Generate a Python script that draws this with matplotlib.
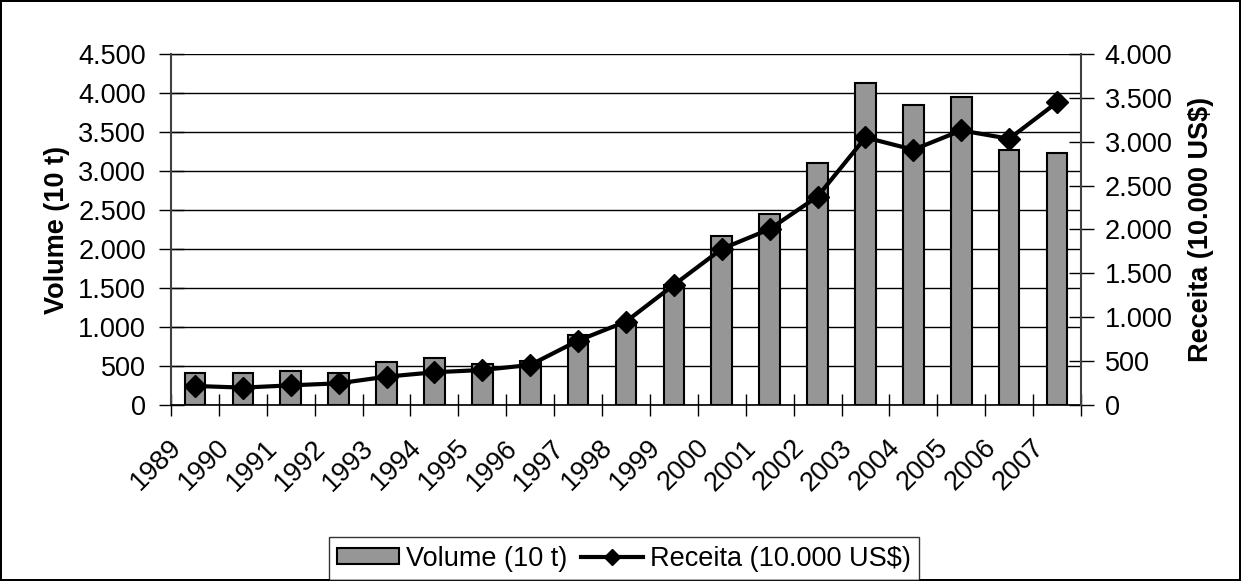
import matplotlib
matplotlib.use("Agg")
import matplotlib.pyplot as plt
from matplotlib.ticker import FuncFormatter, MultipleLocator, FixedLocator
import matplotlib.transforms as mtransforms
import numpy as np

years = [str(y) for y in range(1989, 2008)]
volume = [415, 415, 441, 415, 552, 603, 526, 570, 900, 1020, 1540, 2169, 2447, 3101, 4124, 3841, 3952, 3268, 3234]
receita = [217, 198, 224, 247, 323, 373, 399, 456, 734, 951, 1369, 1779, 2004, 2376, 3049, 2909, 3129, 3034, 3449]

plt.rcParams['font.family'] = ['Liberation Sans', 'DejaVu Sans']
FS = 19.5

W, H = 1241, 581
fig = plt.figure(figsize=(W / 100, H / 100), dpi=100)
fig.patch.set_edgecolor('black')
fig.patch.set_linewidth(1.5)

ax = fig.add_axes([171 / W, 1 - 405 / H, (1081 - 171) / W, (405 - 54) / H])
ax2 = ax.twinx()

x = np.arange(len(years))
bars = ax.bar(x, volume, width=0.43, color='#969696', edgecolor='black', linewidth=1.5, zorder=3,
              label='Volume (10 t)')
ax.set_xlim(-0.5, len(years) - 0.5)
ax.set_ylim(0, 4500)
ax.yaxis.set_major_locator(MultipleLocator(500))
ax.grid(axis='y', color='black', linewidth=1, zorder=0)
ax.set_axisbelow(True)

line, = ax2.plot(x, receita, color='black', linewidth=3, marker='D', markersize=11,
                 label='Receita (10.000 US$)', zorder=5)
ax2.set_ylim(0, 4000)
ax2.yaxis.set_major_locator(MultipleLocator(500))

fmt = FuncFormatter(lambda v, p: format(int(round(v)), ',').replace(',', '.'))
ax.yaxis.set_major_formatter(fmt)
ax2.yaxis.set_major_formatter(fmt)

ax.spines['top'].set_visible(False)
ax2.spines['top'].set_visible(False)
ax.spines['right'].set_visible(False)
ax2.spines['left'].set_visible(False)
ax2.spines['bottom'].set_visible(False)
ax.spines['left'].set_color('#404040')
ax2.spines['right'].set_color('#404040')
ax.spines['left'].set_linewidth(1.5)
ax2.spines['right'].set_linewidth(1.5)
ax.spines['bottom'].set_linewidth(1.2)

ax.tick_params(axis='y', direction='inout', length=18, width=1, labelsize=FS, pad=9)
ax2.tick_params(axis='y', direction='inout', length=18, width=1, labelsize=FS, pad=8)

# x ticks between categories
ax.set_xticks(x)
ax.set_xticklabels(years, rotation=45, ha='right', va='center', rotation_mode='anchor', fontsize=FS)
ax.tick_params(axis='x', which='major', length=0, pad=28)
offset = mtransforms.ScaledTranslation(-17 / 100, 0, fig.dpi_scale_trans)
for lab in ax.get_xticklabels():
    lab.set_transform(lab.get_transform() + offset)
ax.xaxis.set_minor_locator(FixedLocator(np.arange(-0.5, len(years), 1.0)))
ax.tick_params(axis='x', which='minor', direction='inout', length=16, width=1)

ax.set_ylabel('Volume (10 t)', fontsize=FS, fontweight='bold', labelpad=6)
ax2.set_ylabel('Receita (10.000 US$)', fontsize=FS, fontweight='bold', labelpad=11)

leg = fig.legend(handles=[bars, line], loc='center', bbox_to_anchor=(624 / W, 1 - 558.5 / H),
                 ncol=2, fontsize=FS, frameon=True, fancybox=False, edgecolor='black',
                 handlelength=2.3, handleheight=0.5, handletextpad=0.25, columnspacing=0.5,
                 borderpad=0.3, borderaxespad=0, markerscale=0.7)
leg.get_frame().set_linewidth(1)

fig.savefig('out.png', dpi=100, edgecolor=fig.get_edgecolor())
